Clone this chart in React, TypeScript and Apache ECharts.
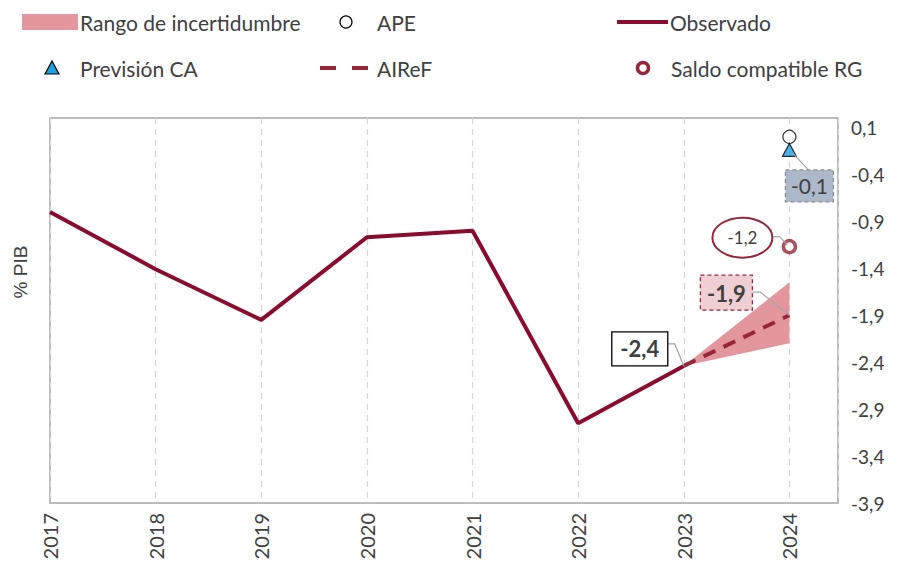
import React, { useEffect, useRef } from "react";
import * as echarts from "echarts";

const years = [2017, 2018, 2019, 2020, 2021, 2022, 2023];
const observado = [-0.8, -1.41, -1.95, -1.07, -1.0, -3.05, -2.44];
const airefYears = [2023, 2024];
const airef = [-2.44, -1.9];
const bandYears = [2023, 2024];
const bandLow = [-2.44, -2.2];
const bandHigh = [-2.44, -1.55];
const lastYear = 2024;
const apeValue = 0.0;
const previsionCA = -0.14;
const saldoRG = -1.17;
const yTicks = [0.1, -0.4, -0.9, -1.4, -1.9, -2.4, -2.9, -3.4, -3.9];
const xTicks = [2017, 2018, 2019, 2020, 2021, 2022, 2023, 2024];

const FONT = "Lato, 'Open Sans', sans-serif";
const TXT = "#404040";
const RED_DARK = "#8A0B2F";
const RED = "#98263A";
const PINK = "#E4969F";

const fmt = (v: number) => v.toFixed(1).replace(".", ",");

export default function App() {
  const ref = useRef<HTMLDivElement>(null);
  useEffect(() => {
    if (!ref.current) return;
    const chart = echarts.init(ref.current, null, { renderer: "svg" });
    const option: any = {
      animation: false,
      backgroundColor: "#fff",
      grid: {
        left: 50,
        right: 65,
        top: 118,
        bottom: 60,
        show: true,
        borderColor: "#A6A6A6",
        borderWidth: 1.5,
        backgroundColor: "transparent",
      },
      xAxis: {
        type: "value",
        min: 2017,
        max: 2024.46,
        interval: 1,
        axisLine: { show: false },
        axisTick: { show: false },
        splitLine: { show: true, lineStyle: { type: [6, 5], color: "#D6D6D6", width: 1.2 } },
        axisLabel: {
          customValues: xTicks,
          rotate: 90,
          margin: 10,
          fontSize: 20,
          color: TXT,
          fontFamily: FONT,
          formatter: (v: number) => String(v),
        },
      },
      yAxis: {
        type: "value",
        position: "right",
        min: -3.9,
        max: 0.2,
        axisLine: { show: false },
        axisTick: { show: false },
        splitLine: { show: false },
        axisLabel: {
          customValues: yTicks,
          margin: 13,
          fontSize: 19,
          color: TXT,
          fontFamily: FONT,
          formatter: (v: number) => fmt(v),
        },
      },
      series: [
        {
          name: "Rango de incertidumbre",
          type: "custom",
          z: 1,
          data: bandYears.map((y, i) => [y, bandLow[i], bandHigh[i]]),
          encode: { x: 0, y: [1, 2] },
          renderItem: (params: any, api: any) => {
            if (params.dataIndex !== 0) return null;
            const up = bandYears.map((y, i) => api.coord([y, bandHigh[i]]));
            const lo = bandYears.map((y, i) => api.coord([y, bandLow[i]])).reverse();
            return {
              type: "polygon",
              shape: { points: up.concat(lo) },
              style: { fill: PINK },
            };
          },
        },
        {
          name: "Observado",
          type: "line",
          z: 3,
          symbol: "none",
          data: years.map((y, i) => [y, observado[i]]),
          lineStyle: { color: RED_DARK, width: 4 },
        },
        {
          name: "AIReF",
          type: "line",
          z: 4,
          symbol: "none",
          data: airefYears.map((y, i) => [y, airef[i]]),
          lineStyle: { color: RED, width: 4, type: [13, 9] },
        },
        {
          name: "APE",
          type: "scatter",
          z: 5,
          symbol: "circle",
          symbolSize: 13,
          data: [[lastYear, apeValue]],
          itemStyle: { color: "#fff", borderColor: "#000", borderWidth: 1.2 },
        },
        {
          name: "Previsión CA",
          type: "scatter",
          z: 6,
          symbol: "triangle",
          symbolSize: [14, 13],
          data: [[lastYear, previsionCA]],
          itemStyle: { color: "#1BA1E2", borderColor: "#000", borderWidth: 1.2 },
        },
        {
          name: "Saldo compatible RG",
          type: "scatter",
          z: 5,
          symbol: "circle",
          symbolSize: 12,
          data: [[lastYear, saldoRG]],
          itemStyle: { color: "#fff", borderColor: RED, borderWidth: 3.5 },
        },
      ],
    };
    chart.setOption(option);

    const px = (x: number, y: number) => chart.convertToPixel({ gridIndex: 0 }, [x, y]) as number[];
    const pA = px(airefYears[0], airef[0]);
    const pB = px(airefYears[1], airef[1]);
    const pC = px(lastYear, saldoRG);
    const pD = px(lastYear, previsionCA);
    const leader = (p: number[], pts: number[][]) => ({
      type: "polyline",
      z: 20,
      shape: { points: pts.map((d) => [p[0] + d[0], p[1] + d[1]]) },
      style: { stroke: "#A6A6A6", lineWidth: 1.2, fill: "none" },
    });
    const legendText = (x: number, y: number, text: string) => ({
      type: "text",
      x,
      y,
      style: { text, fontSize: 21, fontFamily: FONT, fill: TXT, verticalAlign: "middle", align: "left" },
    });

    const graphic: any[] = [
      // legend row 1
      { type: "rect", shape: { x: 22, y: 14, width: 56, height: 16 }, style: { fill: PINK } },
      legendText(80, 22, "Rango de incertidumbre"),
      { type: "circle", shape: { cx: 346, cy: 22, r: 6 }, style: { fill: "#fff", stroke: "#000", lineWidth: 1.2 } },
      legendText(377, 22, "APE"),
      { type: "line", shape: { x1: 617, y1: 22, x2: 668, y2: 22 }, style: { stroke: RED_DARK, lineWidth: 4 } },
      legendText(670, 22, "Observado"),
      // legend row 2
      { type: "polygon", shape: { points: [[52, 61], [45, 74], [59, 74]] }, style: { fill: "#1BA1E2", stroke: "#000", lineWidth: 1.2 } },
      legendText(80, 68, "Previsión CA"),
      { type: "line", shape: { x1: 320, y1: 68, x2: 336, y2: 68 }, style: { stroke: RED, lineWidth: 4 } },
      { type: "line", shape: { x1: 352, y1: 68, x2: 368, y2: 68 }, style: { stroke: RED, lineWidth: 4 } },
      legendText(377, 68, "AIReF"),
      { type: "circle", shape: { cx: 643, cy: 68, r: 5.5 }, style: { fill: "#fff", stroke: RED, lineWidth: 3.5 } },
      legendText(671, 68, "Saldo compatible RG"),
      // y axis name
      {
        type: "text",
        x: 20,
        y: 272,
        rotation: Math.PI / 2,
        style: { text: "% PIB", fontSize: 19, fontFamily: "'Liberation Sans', Arial, sans-serif", fill: TXT, align: "center", verticalAlign: "middle" },
      },
      // annotation A (-2,4)
      leader(pA, [[-16, -22], [-9, -22], [0, 0]]),
      { type: "rect", z: 21, shape: { x: pA[0] - 72, y: pA[1] - 34, width: 56, height: 34 }, style: { fill: "#fff", stroke: "#000", lineWidth: 1.3 } },
      { type: "text", z: 22, x: pA[0] - 44, y: pA[1] - 17, style: { text: fmt(airef[0]), fontSize: 22, fontWeight: "bold", fontFamily: FONT, fill: TXT, align: "center", verticalAlign: "middle" } },
      // annotation B (-1,9)
      leader(pB, [[-37, -23], [-29, -23], [0, 0]]),
      { type: "rect", z: 21, shape: { x: pB[0] - 89, y: pB[1] - 40, width: 52, height: 35 }, style: { fill: "#EFCFD3", stroke: RED, lineWidth: 1.3, lineDash: [4, 3] } },
      { type: "text", z: 22, x: pB[0] - 63, y: pB[1] - 22, style: { text: fmt(airef[1]), fontSize: 22, fontWeight: "bold", fontFamily: FONT, fill: TXT, align: "center", verticalAlign: "middle" } },
      // annotation C (-1,2)
      leader(pC, [[-17, -10], [-10, -10], [-2, -2]]),
      { type: "ellipse", z: 21, shape: { cx: pC[0] - 47, cy: pC[1] - 9, rx: 30, ry: 20 }, style: { fill: "#fff", stroke: RED, lineWidth: 2 } },
      { type: "text", z: 22, x: pC[0] - 47, y: pC[1] - 9, style: { text: fmt(saldoRG), fontSize: 17, fontFamily: FONT, fill: TXT, align: "center", verticalAlign: "middle" } },
      // annotation D (-0,1)
      leader(pD, [[3, 3], [19, 20]]),
      { type: "rect", z: 21, shape: { x: pD[0] - 4, y: pD[1] + 20, width: 48, height: 32 }, style: { fill: "#ADB9CA", stroke: "#8C8C8C", lineWidth: 1.3, lineDash: [4, 3] } },
      { type: "text", z: 22, x: pD[0] + 20, y: pD[1] + 36, style: { text: fmt(previsionCA), fontSize: 21, fontFamily: FONT, fill: TXT, align: "center", verticalAlign: "middle" } },
    ];
    chart.setOption({ graphic });
    return () => chart.dispose();
  }, []);
  return <div ref={ref} style={{ position: "fixed", left: 0, top: 0, width: 903, height: 563 }} />;
}
